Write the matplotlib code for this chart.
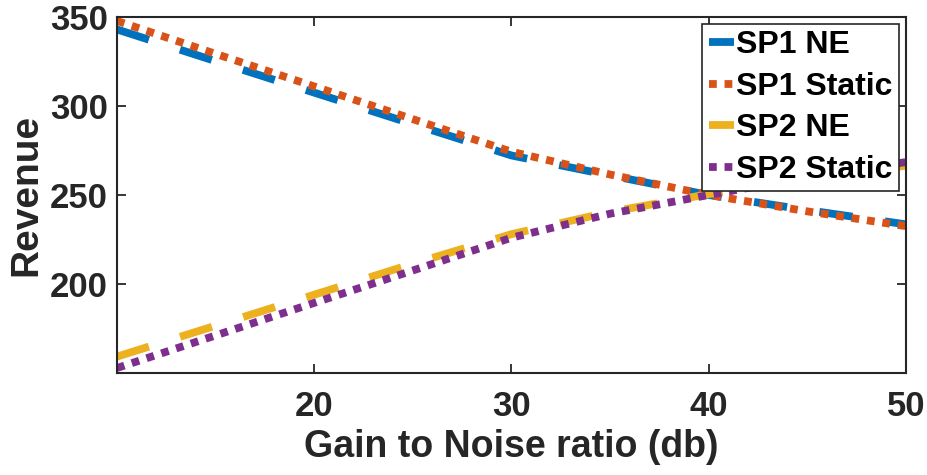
import matplotlib
matplotlib.use("Agg")
import matplotlib.pyplot as plt

# ---- data ----
gnr = [10, 15, 20, 25, 30, 35, 40, 45, 50]
sp1_ne = [343.0, 325.2, 307.5, 289.8, 272.2, 261.0, 250.0, 241.5, 233.5]
sp1_static = [347.8, 329.3, 311.0, 292.6, 274.3, 261.5, 250.0, 240.8, 232.5]
sp2_ne = [159.2, 176.6, 194.0, 211.4, 228.0, 240.5, 250.5, 259.0, 266.5]
sp2_static = [152.8, 171.1, 189.4, 207.6, 226.0, 239.5, 250.0, 260.0, 268.5]
labels = ["SP1 NE", "SP1 Static", "SP2 NE", "SP2 Static"]
xticks = [20, 30, 40, 50]
yticks = [200, 250, 300, 350]

plt.rcParams['font.family'] = ['Liberation Sans', 'DejaVu Sans']
plt.rcParams['font.weight'] = 'bold'

fig = plt.figure(figsize=(9.27, 4.75), dpi=100)
ax = fig.add_axes([117/927, 1-373/475, (906-117)/927, (373-17)/475])

lw = 5.6
c_blue, c_orange, c_yellow, c_purple = '#0072BD', '#D95319', '#EDB120', '#7E2F8E'
ax.plot(gnr, sp1_ne, color=c_blue, lw=lw, linestyle=(0, (4.3, 4.2)),
        dash_capstyle='butt', label=labels[0])
ax.plot(gnr, sp1_static, color=c_orange, lw=lw, linestyle=(0, (1, 1)),
        dash_capstyle='butt', label=labels[1])
ax.plot(gnr, sp2_ne, color=c_yellow, lw=lw, linestyle=(0, (4.3, 4.2)),
        dash_capstyle='butt', label=labels[2])
ax.plot(gnr, sp2_static, color=c_purple, lw=lw, linestyle=(0, (1, 1)),
        dash_capstyle='butt', label=labels[3])

ax.set_xlim(10, 50)
ax.set_ylim(150, 350)
ax.set_xticks(xticks)
ax.set_yticks(yticks)

tc = '#262626'
for s in ax.spines.values():
    s.set_color(tc)
    s.set_linewidth(1.5)
ax.tick_params(direction='in', length=6.5, width=1.3, color=tc,
               top=True, right=True, labelsize=25, labelcolor=tc)
ax.tick_params(axis='x', pad=12.5)
ax.tick_params(axis='y', pad=6.5)
for lab in ax.get_xticklabels() + ax.get_yticklabels():
    lab.set_fontweight('bold')

ax.set_xlabel("Gain to Noise ratio (db)", fontsize=27, fontweight='bold', color=tc, labelpad=4)
ax.set_ylabel("Revenue", fontsize=28, fontweight='bold', color=tc, labelpad=4)

leg = ax.legend(loc='upper right', prop={'weight': 'bold', 'size': 23},
                handlelength=0.8, handletextpad=0.06, borderpad=0.2,
                labelspacing=0.36, borderaxespad=0.22, fancybox=False,
                framealpha=1, edgecolor='#262626')
leg.get_frame().set_linewidth(1.2)

fig.savefig("out.png", dpi=100)
